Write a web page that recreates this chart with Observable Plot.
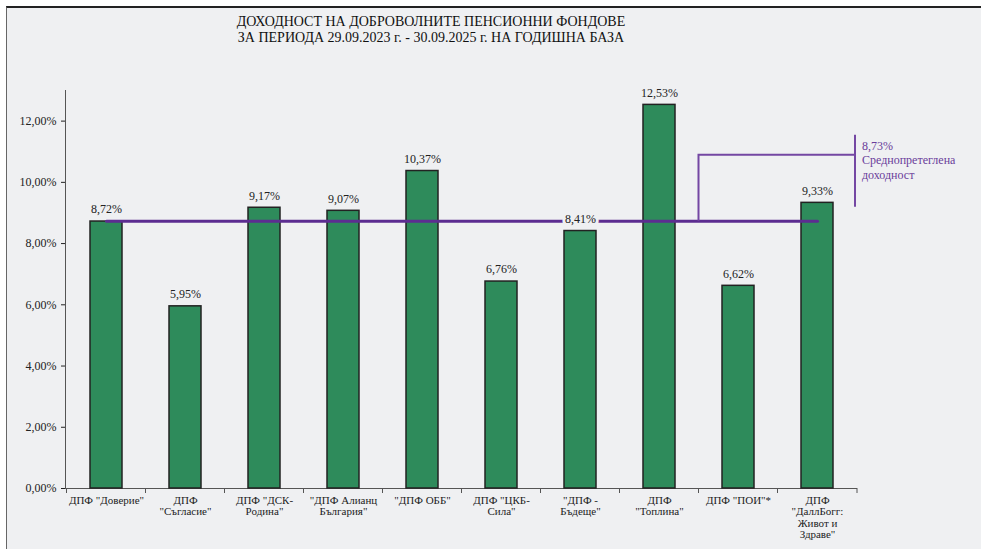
<!DOCTYPE html>
<html>
<head>
<meta charset="utf-8">
<script src="https://cdn.jsdelivr.net/npm/d3@7"></script>
<script src="https://cdn.jsdelivr.net/npm/@observablehq/plot@0.6"></script>
<style>
  body { margin: 0; background: #ffffff; width: 981px; height: 549px; overflow: hidden; position: relative; }
  #frame { position: absolute; left: 6px; top: 6px; width: 975px; height: 543px; background: #eff0f2; border-top: 2px solid #222; border-left: 1.5px solid #666; box-sizing: border-box; }
  #title { position: absolute; top: 14px; left: 0; width: 862px; text-align: center; font-family: "Times New Roman", "Liberation Serif", "DejaVu Serif", serif; font-size: 14px; line-height: 16px; color: #111; }
  #chart { position: absolute; top: 50px; left: 0; }
</style>
</head>
<body>
<div id="frame"></div>
<div id="title">ДОХОДНОСТ НА ДОБРОВОЛНИТЕ ПЕНСИОННИ ФОНДОВЕ<br>ЗА ПЕРИОДА 29.09.2023 г. - 30.09.2025 г. НА ГОДИШНА БАЗА</div>
<div id="chart"></div>
<script>
const categories = [
  "ДПФ \"Доверие\"",
  "ДПФ\n\"Съгласие\"",
  "ДПФ \"ДСК-\nРодина\"",
  "\"ДПФ Алианц\nБългария\"",
  "\"ДПФ ОББ\"",
  "ДПФ \"ЦКБ-\nСила\"",
  "\"ДПФ -\nБъдеще\"",
  "ДПФ\n\"Топлина\"",
  "ДПФ \"ПОИ\"*",
  "ДПФ\n\"ДаллБогг:\nЖивот и\nЗдраве\""
];
const values = [8.72, 5.95, 9.17, 9.07, 10.37, 6.76, 8.41, 12.53, 6.62, 9.33];
const yTicks = [0, 2, 4, 6, 8, 10, 12];
const average = 8.73;
const averageLabel = ["8,73%", "Среднопретеглена", "доходност"];

const serif = "'Times New Roman', 'Liberation Serif', 'DejaVu Serif', serif";
const fmt = d => d.toFixed(2).replace(".", ",") + "%";
const rows = categories.map((c, i) => ({c, v: values[i]}));
const avgRows = [{c: categories[0], v: average}, {c: categories[categories.length - 1], v: average}];

const plot = Plot.plot({
  width: 981,
  height: 499,
  marginTop: 40,
  marginBottom: 61,
  marginLeft: 65,
  marginRight: 124,
  style: {background: "transparent", fontFamily: serif, fontSize: "12px", color: "#222"},
  x: {domain: categories, paddingInner: 0.6, paddingOuter: 0.3, axis: null},
  y: {domain: [0, 13], ticks: yTicks, tickFormat: fmt, tickSize: 4, tickPadding: 5, label: null},
  marks: [
    Plot.frame({anchor: "left", stroke: "#555"}),
    Plot.ruleY([0], {stroke: "#555"}),
    Plot.barY(rows, {x: "c", y: "v", fill: "#2e8b5b", stroke: "#222", strokeWidth: 1.5}),
    Plot.lineY(avgRows, {x: "c", y: "v", stroke: "#5c2d91", strokeWidth: 3}),
    Plot.text(rows, {x: "c", y: "v", text: d => fmt(d.v), dy: -12, fill: "#222", stroke: "#eff0f2", strokeWidth: 6, paintOrder: "stroke", fontSize: 12}),
    Plot.text(rows, {x: "c", y: 0, text: "c", lineAnchor: "top", dy: 7, lineHeight: 1.05, fontSize: 11, fill: "#222"})
  ]
});
document.getElementById("chart").appendChild(plot);

// boundary ticks and annotation, positioned through Plot's own scales
const xs = plot.scale("x"), ys = plot.scale("y");
const svg = d3.select(plot);
const gap = (xs.step - xs.bandwidth) / 2;
const y0 = ys.apply(0);
const boundaries = categories.map(c => xs.apply(c) - gap).concat([xs.range[1]]);
svg.append("g").attr("stroke", "#555")
  .selectAll("line").data(boundaries).join("line")
  .attr("x1", d => d).attr("x2", d => d).attr("y1", y0).attr("y2", y0 + 5);

const ay = ys.apply(average);
const bx = xs.apply(categories[8]) - gap;
const rx = xs.range[1] - 2;
const ann = svg.append("g").attr("fill", "none").attr("stroke", "#7447a3").attr("stroke-width", 2);
ann.append("path").attr("d", `M${bx},${ay} V${ay - 66} H${rx}`);
ann.append("path").attr("d", `M${rx},${ay - 86} V${ay - 14}`);
svg.append("g").attr("fill", "#6a3d9a").attr("font-size", 12).attr("text-anchor", "start")
  .attr("font-family", serif)
  .selectAll("text").data(averageLabel).join("text")
  .attr("x", rx + 7).attr("y", (d, i) => ay - 71 + i * 14.5).text(d => d);
</script>
</body>
</html>
